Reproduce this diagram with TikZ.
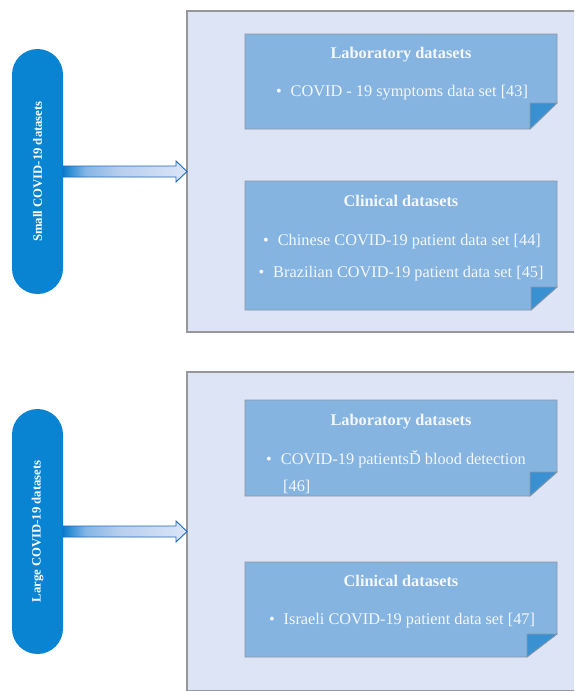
\documentclass[tikz,border=0pt]{standalone}
\usepackage{fontspec}
\setmainfont{Liberation Serif}
\usepackage{graphicx}
\usetikzlibrary{calc}

\definecolor{panelfill}{RGB}{221,228,245}
\definecolor{paneledge}{RGB}{150,150,155}
\definecolor{cardfill}{RGB}{133,180,224}
\definecolor{cardedge}{RGB}{140,150,165}
\definecolor{foldfill}{RGB}{58,145,210}
\definecolor{pillfill}{RGB}{8,132,210}
\definecolor{arrowedge}{RGB}{30,105,185}
\definecolor{cardtext}{RGB}{244,247,252}

% left-to-right fade of the thick connector arrows
\pgfdeclarehorizontalshading{fadearrow}{100bp}{%
  rgb(0bp)=(0.04,0.49,0.80);
  rgb(25bp)=(0.04,0.49,0.80);
  rgb(34bp)=(0.52,0.71,0.90);
  rgb(48bp)=(0.72,0.81,0.93);
  rgb(75bp)=(0.86,0.90,0.97);
  rgb(100bp)=(0.86,0.90,0.97)}

\tikzset{
  panel/.style={rectangle, fill=panelfill, draw=paneledge, line width=1.6pt,
    anchor=north west, outer sep=0pt, inner sep=0pt},
  cardbox/.style={rectangle, anchor=north west, outer sep=0pt, inner sep=0pt,
    minimum width=312pt},
  cardbody/.style={fill=cardfill, draw=cardedge, line width=0.9pt, line join=miter},
  cardfold/.style={fill=foldfill, draw=cardedge, line width=0.7pt},
  pill/.style={rectangle, fill=pillfill, minimum width=51pt, minimum height=245pt,
    rounded corners=25.5pt, inner sep=0pt, outer sep=0pt, text=white,
    font=\fontsize{12.7pt}{14pt}\selectfont\bfseries},
  cardtitle/.style={anchor=base, inner sep=0pt, text=cardtext,
    font=\fontsize{16.3pt}{19pt}\selectfont\bfseries},
  carditem/.style={anchor=base, inner sep=0pt, text=cardtext,
    font=\fontsize{16.3pt}{19pt}\selectfont},
  fatarrow/.style={shading=fadearrow, draw=arrowedge, line width=0.9pt, line join=miter}
}

% bullet followed by its gap
\newcommand\itemdot{\textbullet\hspace{9pt}}

\begin{document}
\begin{tikzpicture}[x=1pt,y=-1pt]
\useasboundingbox (0,0) rectangle (574,691);
\clip (0,0) rectangle (574,691);

% ---------- outer panels (run past the right edge) ----------
\node[panel, minimum width=420pt, minimum height=321pt] (smallpanel) at (187,11) {};
\node[panel, minimum width=420pt, minimum height=319pt] (largepanel) at (187,372) {};

% ---------- folded-corner cards ----------
% card: laboratory, small datasets
\node[cardbox, minimum height=95pt] (labA) at (245,34) {};
\filldraw[cardbody] (labA.north west) -- (labA.north east) -- ([yshift=26pt]labA.south east)
  -- ([xshift=-27pt]labA.south east) -- (labA.south west) -- cycle;
\filldraw[cardfold] ([xshift=-27pt,yshift=26pt]labA.south east) -- ([yshift=26pt]labA.south east)
  -- ([xshift=-27pt]labA.south east) -- cycle;

% card: clinical, small datasets
\node[cardbox, minimum height=129pt] (clinA) at (245,181) {};
\filldraw[cardbody] (clinA.north west) -- (clinA.north east) -- ([yshift=23pt]clinA.south east)
  -- ([xshift=-26pt]clinA.south east) -- (clinA.south west) -- cycle;
\filldraw[cardfold] ([xshift=-26pt,yshift=23pt]clinA.south east) -- ([yshift=23pt]clinA.south east)
  -- ([xshift=-26pt]clinA.south east) -- cycle;

% card: laboratory, large datasets
\node[cardbox, minimum height=96pt] (labB) at (245,400) {};
\filldraw[cardbody] (labB.north west) -- (labB.north east) -- ([yshift=24pt]labB.south east)
  -- ([xshift=-27pt]labB.south east) -- (labB.south west) -- cycle;
\filldraw[cardfold] ([xshift=-27pt,yshift=24pt]labB.south east) -- ([yshift=24pt]labB.south east)
  -- ([xshift=-27pt]labB.south east) -- cycle;

% card: clinical, large datasets
\node[cardbox, minimum height=95pt] (clinB) at (245,562) {};
\filldraw[cardbody] (clinB.north west) -- (clinB.north east) -- ([yshift=23pt]clinB.south east)
  -- ([xshift=-30pt]clinB.south east) -- (clinB.south west) -- cycle;
\filldraw[cardfold] ([xshift=-30pt,yshift=23pt]clinB.south east) -- ([yshift=23pt]clinB.south east)
  -- ([xshift=-30pt]clinB.south east) -- cycle;

% ---------- card texts ----------
\node[cardtitle] (labAt) at (401,58) {Laboratory datasets};
\node[carditem]  (labAi) at (402,96) {\itemdot COVID - 19 symptoms data set [43]};

\node[cardtitle] (clinAt) at (401,206) {Clinical datasets};
\node[carditem]  (clinAi) at (402,245) {\itemdot Chinese COVID-19 patient data set [44]};
\node[carditem]  (clinAj) at (401,277.5) {\itemdot Brazilian COVID-19 patient data set [45]};

\node[cardtitle] (labBt) at (401,425) {Laboratory datasets};
\node[carditem, anchor=base west] (labBi) at (266,464) {\itemdot COVID-19 patientsĎ\ blood detection};
\node[carditem, anchor=base west] (labBj) at (283,491) {[46]};

\node[cardtitle] (clinBt) at (401,586) {Clinical datasets};
\node[carditem]  (clinBi) at (402,624) {\itemdot Israeli COVID-19 patient data set [47]};

% ---------- category pills ----------
\node[pill] (small) at (37.5,171.5) {\rotatebox{90}{Small COVID-19 datasets}};
\node[pill] (large) at (37.5,531.5) {\rotatebox{90}{Large COVID-19 datasets}};

% ---------- thick arrows from pills to panels ----------
\path[fatarrow] ([yshift=5.5pt]small.east) -- ([xshift=-11pt,yshift=5.5pt]smallpanel.west |- small.east)
  -- ([xshift=-11pt,yshift=10.5pt]smallpanel.west |- small.east) -- (smallpanel.west |- small.east)
  -- ([xshift=-11pt,yshift=-10.5pt]smallpanel.west |- small.east)
  -- ([xshift=-11pt,yshift=-5.5pt]smallpanel.west |- small.east)
  -- ([yshift=-5.5pt]small.east) -- cycle;
\path[fatarrow] ([yshift=5.5pt]large.east) -- ([xshift=-11pt,yshift=5.5pt]largepanel.west |- large.east)
  -- ([xshift=-11pt,yshift=10.5pt]largepanel.west |- large.east) -- (largepanel.west |- large.east)
  -- ([xshift=-11pt,yshift=-10.5pt]largepanel.west |- large.east)
  -- ([xshift=-11pt,yshift=-5.5pt]largepanel.west |- large.east)
  -- ([yshift=-5.5pt]large.east) -- cycle;
\end{tikzpicture}
\end{document}
